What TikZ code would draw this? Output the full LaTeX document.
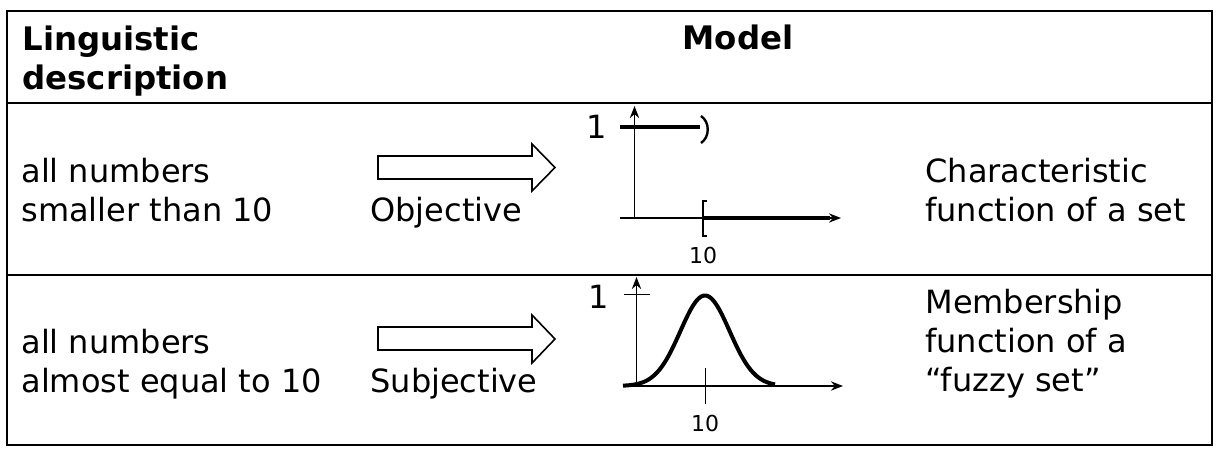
\documentclass[tikz,border=0pt]{standalone}
\usepackage{fontspec}
\setmainfont{DejaVu Sans}
\usetikzlibrary{arrows.meta}
\begin{document}
\begin{tikzpicture}[x=0.5pt,y=-0.5pt,
  txt/.style={inner sep=0pt,anchor=base west,font=\fontsize{16}{20}\selectfont},
  hdr/.style={inner sep=0pt,anchor=base west,font=\fontsize{16.2}{20}\selectfont\bfseries},
  small/.style={inner sep=0pt,anchor=base,font=\fontsize{11}{13}\selectfont},
  onelbl/.style={inner sep=0pt,anchor=base,font=\fontsize{16}{20}\selectfont},
  axis/.style={line width=0.95pt,-{Stealth[length=6pt,width=4.6pt]}},
  thickline/.style={line width=2pt},
  blockarrow/.style={draw,line width=0.8pt,fill=white,line join=miter},
  frame/.style={line width=1pt}]
\useasboundingbox (0,0) rectangle (1221,455);
% table
\draw[frame] (7,11) rectangle (1212,445);
\draw[frame] (7,102.5) -- (1212,102.5);
\draw[frame] (7,275) -- (1212,275);
% header
\node[hdr] (h1) at (22,50) {Linguistic};
\node[hdr] (h2) at (22,89) {description};
\node[hdr,anchor=base] (hm) at (738,49.5) {Model};
% row 1
\node[txt] (a1) at (21,182) {all numbers};
\node[txt] (a2) at (21,221) {smaller than 10};
\node[txt] (obj) at (370,221) {Objective};
\node[txt] (c1) at (925,182) {Characteristic};
\node[txt] (c2) at (925,221) {function of a set};
\draw[blockarrow] (378,156) -- (532,156) -- (532,144) -- (555,167.5) -- (532,191) -- (532,179) -- (378,179) -- cycle;
% graph 1
\coordinate (o1) at (634.5,218);
\coordinate (y1) at (634.5,106);
\coordinate (x1s) at (620,218);
\coordinate (x1e) at (841,218);
\draw[axis] (o1) -- (y1);
\draw[axis] (x1s) -- (x1e);
\coordinate (t1a) at (620,126.5);
\coordinate (t1b) at (700,126.5);
\draw[thickline] (t1a) -- (t1b);
\draw[line width=1.2pt] (701,116) .. controls (710,122) and (710,137) .. (701,143);
\coordinate (b1a) at (703,218);
\coordinate (b1b) at (830,218);
\draw[thickline] (b1a) -- (b1b);
\draw[line width=1.2pt] (707,201) -- (703,201) -- (703,236) -- (707,236);
\node[onelbl] (one1) at (597,138) {1};
\node[small] (ten1) at (703,263) {10};
% row 2
\node[txt] (d1) at (21,353) {all numbers};
\node[txt] (d2) at (21,392) {almost equal to 10};
\node[txt] (sub) at (370,392) {Subjective};
\node[txt] (m1) at (925,313) {Membership};
\node[txt] (m2) at (925,352) {function of a};
\node[txt] (m3) at (925,391) {“fuzzy set”};
\draw[blockarrow] (378,327) -- (532,327) -- (532,315) -- (555,339) -- (532,363) -- (532,350) -- (378,350) -- cycle;
% graph 2
\coordinate (o2) at (636.5,386);
\coordinate (y2) at (636.5,277);
\coordinate (x2s) at (623,386);
\coordinate (x2e) at (843,386);
\draw[axis] (o2) -- (y2);
\draw[axis] (x2s) -- (x2e);
\draw[line width=0.95pt] (624,294.5) -- (650,294.5);
\draw[line width=0.95pt] (705.5,368) -- (705.5,404);
\draw[thickline,line join=round] plot[domain=623:775,samples=90,smooth] (\x,{386-90.5*exp(-((\x-705)*(\x-705))/1210)});
\node[onelbl] (one2) at (599,308) {1};
\node[small] (ten2) at (705,431) {10};
\end{tikzpicture}
\end{document}
